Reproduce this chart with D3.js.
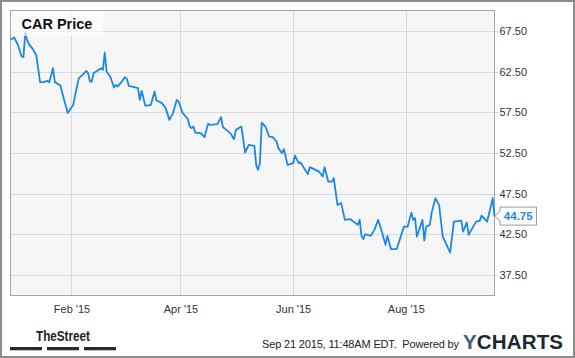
<!DOCTYPE html>
<html>
<head>
<meta charset="utf-8">
<script src="https://cdn.jsdelivr.net/npm/d3@7"></script>
<style>
  body { margin: 0; background: #fff; }
  svg { display: block; font-family: "Liberation Sans", Arial, sans-serif; }
</style>
</head>
<body>
<div class="content"></div>
<script>
// CAR closing prices
var dates = [
  "2014-12-30","2015-01-01","2015-01-03","2015-01-05","2015-01-06","2015-01-07","2015-01-08","2015-01-09",
  "2015-01-11","2015-01-13","2015-01-15","2015-01-17","2015-01-19","2015-01-20","2015-01-22","2015-01-23",
  "2015-01-24","2015-01-26","2015-01-28","2015-01-30","2015-02-02","2015-02-03","2015-02-05","2015-02-07",
  "2015-02-09","2015-02-10","2015-02-11","2015-02-12","2015-02-13","2015-02-15","2015-02-17","2015-02-18",
  "2015-02-19","2015-02-20","2015-02-22","2015-02-24","2015-02-25","2015-02-26","2015-02-28","2015-03-02",
  "2015-03-03","2015-03-04","2015-03-08","2015-03-09","2015-03-10","2015-03-11","2015-03-13","2015-03-16",
  "2015-03-18","2015-03-19","2015-03-22","2015-03-24","2015-03-26","2015-03-28","2015-03-30","2015-03-31",
  "2015-04-02","2015-04-05","2015-04-06","2015-04-07","2015-04-08","2015-04-09","2015-04-12","2015-04-14",
  "2015-04-16","2015-04-17","2015-04-21","2015-04-23","2015-04-24","2015-04-28","2015-04-30","2015-05-01",
  "2015-05-04","2015-05-06","2015-05-08","2015-05-11","2015-05-12","2015-05-13","2015-05-14","2015-05-15",
  "2015-05-17","2015-05-19","2015-05-21","2015-05-23","2015-05-24","2015-05-26","2015-05-27","2015-05-29",
  "2015-06-01","2015-06-02","2015-06-04","2015-06-05","2015-06-09","2015-06-10","2015-06-15","2015-06-17",
  "2015-06-18","2015-06-20","2015-06-22","2015-06-23","2015-06-25","2015-06-27","2015-06-29","2015-07-02",
  "2015-07-06","2015-07-07","2015-07-08","2015-07-09","2015-07-10","2015-07-13","2015-07-15","2015-07-17",
  "2015-07-19","2015-07-21","2015-07-22","2015-07-24","2015-07-27","2015-07-31","2015-08-02","2015-08-04",
  "2015-08-05","2015-08-06","2015-08-07","2015-08-10","2015-08-11","2015-08-12","2015-08-14","2015-08-15",
  "2015-08-17","2015-08-19","2015-08-21","2015-08-25","2015-08-27","2015-08-31","2015-09-01","2015-09-03",
  "2015-09-04","2015-09-08","2015-09-10","2015-09-11","2015-09-14","2015-09-16","2015-09-17","2015-09-18"
];
var prices = [
  66.40,66.68,65.79,64.35,64.28,67.22,66.40,65.87,
  65.29,64.47,61.20,61.20,61.36,61.20,62.92,61.20,
  61.08,60.79,59.03,57.40,58.42,59.64,61.70,62.10,
  62.59,62.31,61.28,61.28,62.31,62.59,62.92,62.71,
  64.84,62.51,61.89,60.54,60.87,60.66,61.20,61.82,
  61.61,60.75,60.54,60.47,59.03,60.14,58.29,58.42,
  60.05,58.94,58.62,58.01,56.57,57.40,59.03,58.82,
  57.47,56.66,55.75,55.55,55.75,55.01,54.94,54.45,
  56.08,55.96,56.04,56.90,55.68,54.94,54.20,55.34,
  55.75,52.56,53.50,53.38,51.04,50.43,51.25,56.24,
  55.75,54.52,54.45,53.91,53.10,52.48,52.97,51.04,
  51.25,52.19,51.25,51.33,49.90,50.76,50.22,49.61,
  50.76,48.99,48.99,49.41,46.13,46.34,44.29,44.37,
  43.67,44.29,42.32,41.92,42.53,42.32,43.06,44.29,
  42.85,41.22,42.32,40.69,40.69,43.46,43.46,45.18,
  44.29,44.50,42.24,44.29,41.74,43.46,43.67,45.18,
  46.95,46.13,42.24,40.27,44.08,44.20,42.85,43.96,
  42.44,44.08,44.16,44.82,44.08,45.92,46.95,44.75
];
var yTicks = [37.5, 42.5, 47.5, 52.5, 57.5, 62.5, 67.5];
var xTicks = ["2015-02-01", "2015-04-01", "2015-06-01", "2015-08-01"];
var yDomain = [35, 70];
var seriesName = "CAR Price";
var lastLabel = "44.75";
var footerText = "Sep 21 2015, 11:48AM EDT.  Powered by";

var W = 575, H = 358;
var plot = {left: 10.5, top: 10.5, right: 494.5, bottom: 295.5};
var parse = d3.timeParse("%Y-%m-%d");
var data = dates.map(function(d, i){ return {date: parse(d), price: prices[i]}; });

var x = d3.scaleTime().domain(d3.extent(data, function(d){ return d.date; })).range([plot.left, plot.right]);
var y = d3.scaleLinear().domain(yDomain).range([plot.bottom, plot.top]);

var svg = d3.select('.content').append("svg").attr("width", W).attr("height", H);

// outer frame
svg.append("rect").attr("x", 1).attr("y", 1).attr("width", W - 2).attr("height", H - 2)
  .attr("fill", "#fff").attr("stroke", "#8c8c8c").attr("stroke-width", 2);

// plot background
svg.append("rect").attr("x", plot.left).attr("y", plot.top)
  .attr("width", plot.right - plot.left).attr("height", plot.bottom - plot.top)
  .attr("fill", "#f6f6f6");

// grid
var grid = svg.append("g");
grid.selectAll(".hg").data(yTicks).enter().append("line")
  .attr("x1", plot.left).attr("x2", plot.right + 4)
  .attr("y1", function(d){ return Math.round(y(d)) + 0.5; })
  .attr("y2", function(d){ return Math.round(y(d)) + 0.5; })
  .attr("stroke", "#d9d9d9");
grid.selectAll(".vg").data(xTicks).enter().append("line")
  .attr("x1", function(d){ return Math.round(x(parse(d))) + 0.5; })
  .attr("x2", function(d){ return Math.round(x(parse(d))) + 0.5; })
  .attr("y1", plot.top).attr("y2", plot.bottom)
  .attr("stroke", "#d9d9d9");

// axes (labels only, via d3 axes)
var yAxis = svg.append("g").attr("transform", "translate(" + (plot.right + 1) + ",0)")
  .call(d3.axisRight(y).tickValues(yTicks).tickFormat(d3.format(".2f")).tickSize(0).tickPadding(4));
var xAxis = svg.append("g").attr("transform", "translate(0," + plot.bottom + ")")
  .call(d3.axisBottom(x).tickValues(xTicks.map(parse)).tickFormat(d3.timeFormat("%b '%y")).tickSize(0).tickPadding(10));
[yAxis, xAxis].forEach(function(a){
  a.select(".domain").remove();
  a.selectAll("text").attr("fill", "#333").style("font-size", "11px").style("font-family", "'Liberation Sans', Arial, sans-serif");
});

// plot border
svg.append("rect").attr("x", plot.left).attr("y", plot.top)
  .attr("width", plot.right - plot.left).attr("height", plot.bottom - plot.top)
  .attr("fill", "none").attr("stroke", "#a6a6a6");

// price line
var line = d3.line().x(function(d){ return x(d.date); }).y(function(d){ return y(d.price); });
svg.append("path").datum(data).attr("d", line)
  .attr("fill", "none").attr("stroke", "#1a88e6").attr("stroke-width", 1.8).attr("stroke-linejoin", "round");

// legend box
svg.append("rect").attr("x", plot.left + 0.5).attr("y", plot.top + 0.5).attr("width", 92).attr("height", 25)
  .attr("fill", "#fff").attr("fill-opacity", 0.6);
svg.append("text").attr("x", 21.5).attr("y", 29).text(seriesName)
  .style("font-size", "14.5px").style("font-weight", "bold").attr("fill", "#111");

// last value marker
var last = data[data.length - 1];
var ly = y(last.price);
var bx = 500, bw = 36.5, bh = 18;
svg.append("path")
  .attr("d", "M" + (plot.right + 0.5) + "," + ly + " L" + bx + "," + (ly - 5) + " L" + bx + "," + (ly - bh / 2) +
       " L" + (bx + bw) + "," + (ly - bh / 2) + " L" + (bx + bw) + "," + (ly + bh / 2) +
       " L" + bx + "," + (ly + bh / 2) + " L" + bx + "," + (ly + 5) + " Z")
  .attr("fill", "#fff").attr("stroke", "#9a9a9a");
svg.append("text").attr("x", bx + bw / 2).attr("y", ly + 4).attr("text-anchor", "middle")
  .text(lastLabel).attr("fill", "#1a88e6").style("font-size", "11.5px").style("font-weight", "bold");

// footer
svg.append("text").attr("x", 36).attr("y", 341).text("TheStreet")
  .attr("textLength", 54).attr("lengthAdjust", "spacingAndGlyphs")
  .style("font-family", "'Liberation Sans Narrow', 'Liberation Sans', Arial, sans-serif")
  .style("font-size", "15px").style("font-weight", "bold").attr("fill", "#222");
[[10, 42], [47, 79], [84, 116]].forEach(function(b){
  svg.append("rect").attr("x", b[0]).attr("y", 347).attr("width", b[1] - b[0]).attr("height", 3.3).attr("fill", "#2b2b2b");
});
svg.append("text").attr("x", 262).attr("y", 348).text(footerText)
  .attr("textLength", 197).attr("lengthAdjust", "spacing")
  .style("font-size", "11px").attr("fill", "#222").style("white-space", "pre");
var yc = svg.append("text").attr("x", 463).attr("y", 348.5)
  .attr("textLength", 100).attr("lengthAdjust", "spacing")
  .style("font-size", "20.5px").style("font-weight", "bold");
yc.append("tspan").text("Y").attr("fill", "#3a5d80");
yc.append("tspan").text("CHARTS").attr("fill", "#1c2633");
</script>
</body>
</html>
